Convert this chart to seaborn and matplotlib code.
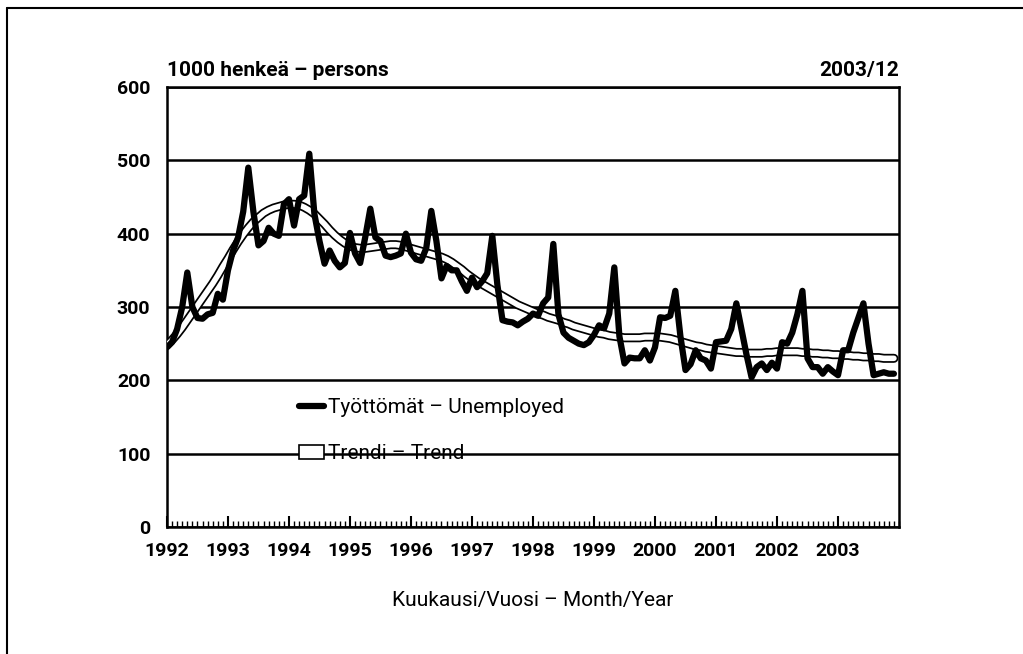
"""Työttömät ja trendi 1992-2003 (kuukausittain)."""
import matplotlib
matplotlib.use("Agg")
import matplotlib.pyplot as plt
from matplotlib.lines import Line2D
from matplotlib.patches import Patch
from matplotlib.ticker import MultipleLocator
import numpy as np
import pandas as pd
import seaborn as sns

# ---------------------------------------------------------------------------
# data (1000 persons, Jan 1992 .. Dec 2003)
# ---------------------------------------------------------------------------
YEARS = list(range(1992, 2004))

UNEMPLOYED = [
    245, 252, 270, 300, 347, 300, 285, 284, 290, 292, 318, 310,   # 1992
    350, 377, 395, 430, 490, 430, 384, 390, 408, 400, 397, 440,   # 1993
    447, 411, 447, 452, 509, 427, 390, 359, 377, 363, 354, 360,   # 1994
    401, 373, 360, 395, 434, 395, 390, 370, 368, 370, 373, 400,   # 1995
    374, 365, 363, 380, 431, 390, 339, 356, 350, 350, 335, 322,   # 1996
    340, 327, 335, 346, 397, 330, 282, 280, 279, 275, 280, 284,   # 1997
    291, 288, 305, 313, 386, 290, 265, 258, 254, 250, 248, 252,   # 1998
    262, 275, 271, 291, 354, 260, 223, 231, 230, 230, 241, 227,   # 1999
    245, 286, 285, 288, 322, 260, 214, 222, 241, 230, 227, 216,   # 2000
    252, 253, 254, 270, 305, 270, 235, 204, 218, 223, 214, 224,   # 2001
    216, 252, 250, 265, 290, 322, 230, 218, 218, 209, 218, 212,   # 2002
    207, 241, 241, 265, 285, 305, 250, 207, 209, 211, 209, 209,   # 2003
]

TREND = [
    248, 255, 263, 272, 282, 292, 302, 312, 322, 332, 343, 355,
    366, 378, 389, 399, 408, 416, 422, 428, 432, 435, 437, 439,
    440, 440, 439, 436, 432, 427, 420, 413, 405, 398, 392, 387,
    383, 381, 380, 380, 381, 382, 383, 384, 385, 385, 384, 382,
    380, 378, 376, 374, 372, 370, 368, 365, 361, 356, 351, 345,
    340, 335, 331, 327, 323, 319, 315, 311, 307, 303, 300, 297,
    294, 291, 289, 286, 284, 282, 279, 277, 274, 272, 270, 268,
    266, 264, 263, 261, 260, 259, 258, 258, 258, 258, 259, 259,
    259, 259, 258, 257, 255, 253, 251, 249, 247, 246, 244, 243,
    242, 241, 240, 239, 238, 238, 237, 237, 237, 237, 238, 238,
    239, 239, 239, 239, 239, 238, 238, 237, 237, 236, 236, 235,
    235, 234, 234, 233, 233, 232, 232, 231, 231, 230, 230, 230,
]

LABEL_UNEMP = "Työttömät – Unemployed"
LABEL_TREND = "Trendi – Trend"


def setup_plot() -> None:
    sns.set_theme(style="white")
    plt.rcParams.update(
        {
            "font.family": ["Roboto", "DejaVu Sans"],
            "axes.unicode_minus": False,
            "text.color": "black",
            "axes.labelcolor": "black",
            "xtick.color": "black",
            "ytick.color": "black",
        }
    )


def main() -> None:
    setup_plot()
    df = pd.DataFrame(
        {
            "month": np.arange(len(UNEMPLOYED)),
            "unemployed": UNEMPLOYED,
            "trend": TREND,
        }
    )

    fig = plt.figure(figsize=(10.23, 6.54), dpi=100)
    ax = fig.add_axes([0.1632, 0.1942, 0.7156, 0.6728])

    # trend: hollow double line
    sns.lineplot(data=df, x="month", y="trend", color="black", linewidth=6.5, ax=ax, zorder=3)
    sns.lineplot(data=df, x="month", y="trend", color="white", linewidth=4.0, ax=ax, zorder=4)
    sns.lineplot(data=df, x="month", y="unemployed", color="black", linewidth=4.5, ax=ax, zorder=5)

    ax.set_xlim(0, 144)
    ax.set_ylim(0, 600)
    ax.yaxis.set_major_locator(MultipleLocator(100))
    ax.set_xticks([12 * k for k in range(len(YEARS))])
    ax.set_xticklabels([str(y) for y in YEARS], fontsize=14, fontweight="bold")
    ax.xaxis.set_minor_locator(MultipleLocator(1))
    ax.tick_params(axis="x", which="major", direction="in", length=8, width=1.5,
                   pad=11, bottom=True)
    ax.tick_params(axis="x", which="minor", direction="in", length=4, width=1.0,
                   bottom=True)
    ax.tick_params(axis="y", left=False, length=0, pad=12)
    for lbl in ax.get_yticklabels():
        lbl.set_fontsize(14)
        lbl.set_fontweight("bold")

    ax.grid(axis="y", color="black", linewidth=1.8, zorder=1)
    ax.set_axisbelow(True)
    for sp in ax.spines.values():
        sp.set_visible(True)
        sp.set_color("black")
        sp.set_linewidth(1.8)

    ax.set_xlabel("Kuukausi/Vuosi – Month/Year", fontsize=15, labelpad=22)
    ax.set_ylabel("")

    ax.text(0.0, 1.015, "1000 henkeä – persons", transform=ax.transAxes,
            ha="left", va="bottom", fontsize=15, fontweight="bold")
    ax.text(1.0, 1.015, "2003/12", transform=ax.transAxes,
            ha="right", va="bottom", fontsize=15, fontweight="bold")

    handles = [
        Line2D([0], [0], color="black", linewidth=4.5),
        Patch(facecolor="white", edgecolor="black", linewidth=1.2),
    ]
    ax.legend(handles, [LABEL_UNEMP, LABEL_TREND], loc="upper left",
              bbox_to_anchor=(0.155, 0.335), frameon=False, fontsize=15,
              handlelength=1.2, handletextpad=0.2, labelspacing=1.3)

    # outer frame (top + left)
    fig.add_artist(Line2D([0.007, 1.0], [0.988, 0.988], color="black", linewidth=1.5,
                          transform=fig.transFigure))
    fig.add_artist(Line2D([0.007, 0.007], [0.0, 0.988], color="black", linewidth=1.5,
                          transform=fig.transFigure))

    fig.savefig("out.png", dpi=100, facecolor="white")
    plt.close(fig)


if __name__ == "__main__":
    main()
